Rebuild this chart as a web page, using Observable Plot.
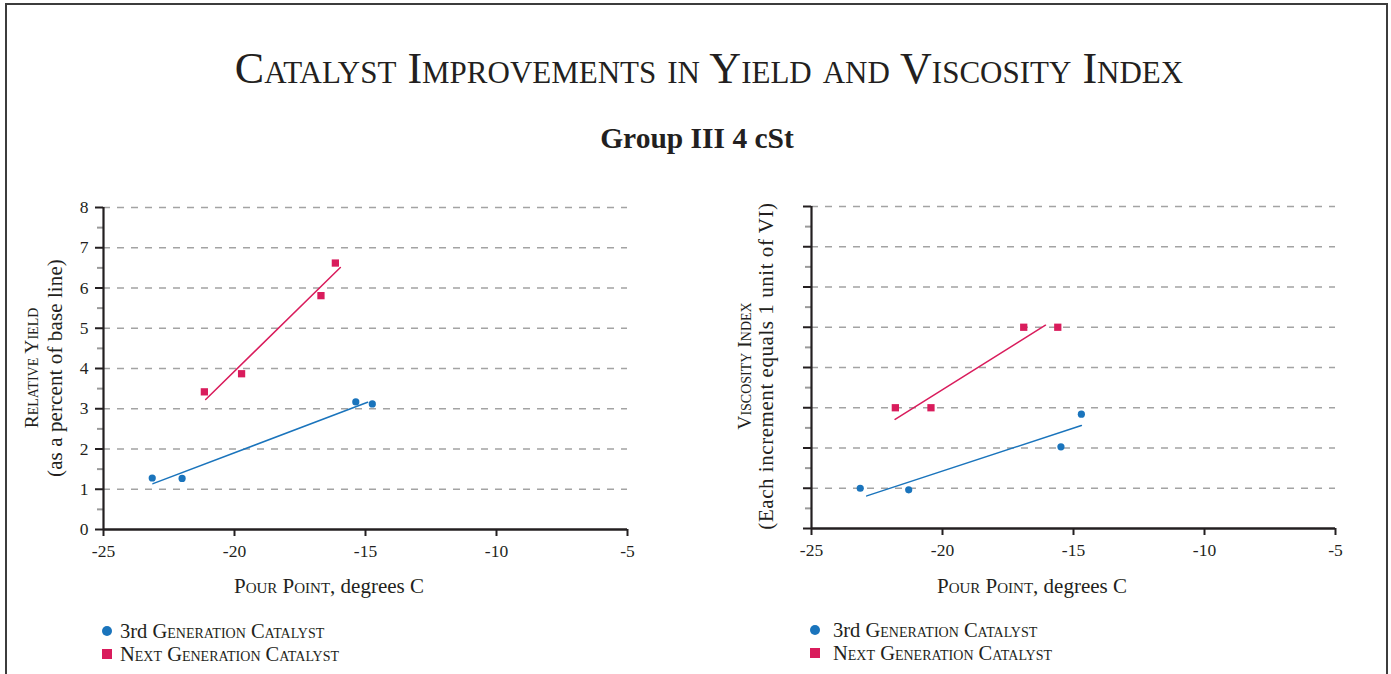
<!DOCTYPE html>
<html>
<head>
<meta charset="utf-8">
<script src="https://cdn.jsdelivr.net/npm/d3@7"></script>
<script src="https://cdn.jsdelivr.net/npm/@observablehq/plot@0.6"></script>
<style>
html, body { margin: 0; padding: 0; background: #fff; }
#page { position: relative; width: 1391px; height: 674px; overflow: hidden; font-family: "Liberation Serif", "DejaVu Serif", serif; color: #231f20; background: #fff; }
#frame { position: absolute; left: 5px; top: 3px; width: 1383px; height: 720px; border: 2px solid #3c3c3c; box-sizing: border-box; }
.abs { position: absolute; white-space: nowrap; line-height: 1; }
.c { transform: translate(-50%, -50%); }
.rot { transform: translate(-50%, -50%) rotate(-90deg); }
.sc { font-variant: small-caps; }
.nv { font-variant: normal; }
.chart { position: absolute; }
.leg { position: absolute; white-space: nowrap; line-height: 1; font-variant: small-caps; transform: translateY(-50%); }
.mk { position: absolute; transform: translate(-50%, -50%); }
</style>
</head>
<body>
<div id="page">
  <div id="frame"></div>
  <div id="title" class="abs c sc" style="left:709px; top:69px; font-size:44px;"></div>
  <div id="subtitle" class="abs c" style="left:697px; top:139px; font-size:29.5px; font-weight:bold;"></div>
</div>
<script>
// ---------- text ----------
const titleText = "Catalyst Improvements in Yield and Viscosity Index";
const subtitleText = "Group III 4 cSt";
const xTitleSC = "Pour Point";
const xTitleRest = ", degrees C";
const leftYTitle = "Relative Yield";
const leftYSub = "(as a percent of base line)";
const rightYTitle = "Viscosity Index";
const rightYSub = "(Each increment equals 1 unit of VI)";
const seriesPrefix = ["3rd ", ""];
const seriesNames = ["Generation Catalyst", "Next Generation Catalyst"];
const seriesColors = ["#1a74bc", "#d91c5c"];

// ---------- ticks ----------
const xTicks = [-25, -20, -15, -10, -5];
const yTicks = [0, 1, 2, 3, 4, 5, 6, 7, 8];
const yMinorTicks = [0.5, 1.5, 2.5, 3.5, 4.5, 5.5, 6.5, 7.5];
const yGrid = [1, 2, 3, 4, 5, 6, 7, 8];

// ---------- left chart: relative yield ----------
const yield3rdX = [-23.14, -22.0, -15.37, -14.74];
const yield3rdY = [1.28, 1.27, 3.17, 3.12];
const yieldNextX = [-21.15, -19.73, -16.70, -16.15];
const yieldNextY = [3.42, 3.87, 5.81, 6.62];
const yield3rdTrendX = [-23.11, -14.92];
const yield3rdTrendY = [1.14, 3.16];
const yieldNextTrendX = [-21.10, -15.96];
const yieldNextTrendY = [3.23, 6.51];

// ---------- right chart: viscosity index ----------
const vi3rdX = [-23.14, -21.29, -15.48, -14.70];
const vi3rdY = [1.00, 0.96, 2.03, 2.84];
const viNextX = [-21.80, -20.44, -16.90, -15.60];
const viNextY = [3.0, 3.0, 5.0, 5.0];
const vi3rdTrendX = [-22.89, -14.70];
const vi3rdTrendY = [0.81, 2.56];
const viNextTrendX = [-21.81, -16.07];
const viNextTrendY = [2.71, 5.05];

const zip = (xs, ys) => xs.map((x, i) => ({x, y: ys[i]}));
const INK = "#231f20";

function chart(o) {
  return Plot.plot({
    width: o.width, height: o.height,
    marginLeft: o.ml, marginRight: o.mr, marginTop: o.mt, marginBottom: o.mb,
    x: {domain: [-25, -5]},
    y: {domain: [0, 8]},
    style: {fontFamily: "Liberation Serif, serif", fontSize: "17px", color: INK, background: "transparent"},
    marks: [
      Plot.gridY(yGrid, {stroke: "#a3a3a3", strokeOpacity: 1, strokeWidth: 1.5, strokeDasharray: "7,7"}),
      Plot.axisY(yMinorTicks, {tickSize: 6, stroke: "#9a9a9a", strokeWidth: 2, fill: "none", label: null}),
      Plot.axisY(yTicks, {tickSize: 8, tickPadding: 7, stroke: INK, strokeWidth: 2, fill: o.yLabels ? INK : "none", label: null, fontSize: 17.5, tickFormat: d => String(d)}),
      Plot.axisX(xTicks, {tickSize: 7, tickPadding: 8, stroke: INK, strokeWidth: 2, fill: INK, label: null, fontSize: 17.5, tickFormat: d => String(d)}),
      Plot.ruleX([-25], {stroke: INK, strokeWidth: 2.2}),
      Plot.ruleY([0], {stroke: INK, strokeWidth: 2.5}),
      Plot.line(zip(o.t3x, o.t3y), {x: "x", y: "y", stroke: seriesColors[0], strokeWidth: 1.5}),
      Plot.line(zip(o.tNx, o.tNy), {x: "x", y: "y", stroke: seriesColors[1], strokeWidth: 1.5}),
      Plot.dot(zip(o.x3, o.y3), {x: "x", y: "y", r: 3.6, fill: seriesColors[0], symbol: "circle"}),
      Plot.dot(zip(o.xN, o.yN), {x: "x", y: "y", r: 4.1, fill: seriesColors[1], symbol: "square"})
    ]
  });
}

const page = document.getElementById("page");
document.getElementById("title").textContent = titleText;
document.getElementById("subtitle").textContent = subtitleText;

function place(el, left, top) {
  el.classList.add("chart");
  el.style.left = left + "px";
  el.style.top = top + "px";
  page.appendChild(el);
}

const leftChart = chart({
  width: 690, height: 400, ml: 103, mr: 63, mt: 27, mb: 51, yLabels: true,
  x3: yield3rdX, y3: yield3rdY, xN: yieldNextX, yN: yieldNextY,
  t3x: yield3rdTrendX, t3y: yield3rdTrendY, tNx: yieldNextTrendX, tNy: yieldNextTrendY
});
place(leftChart, 0, 180);

const rightChart = chart({
  width: 690, height: 400, ml: 111, mr: 55, mt: 26, mb: 52, yLabels: false,
  x3: vi3rdX, y3: vi3rdY, xN: viNextX, yN: viNextY,
  t3x: vi3rdTrendX, t3y: vi3rdTrendY, tNx: viNextTrendX, tNy: viNextTrendY
});
place(rightChart, 700, 180);

function addText(parts, cls, left, top, size, spacing) {
  const d = document.createElement("div");
  d.className = "abs " + cls;
  d.style.left = left + "px";
  d.style.top = top + "px";
  d.style.fontSize = size + "px";
  if (spacing) d.style.letterSpacing = spacing + "px";
  parts.forEach(([text, c]) => {
    const s = document.createElement("span");
    if (c) s.className = c;
    s.textContent = text;
    d.appendChild(s);
  });
  page.appendChild(d);
  return d;
}

// axis titles
addText([[xTitleSC, "sc"], [xTitleRest, "nv"]], "c", 329, 586, 21);
addText([[xTitleSC, "sc"], [xTitleRest, "nv"]], "c", 1032, 586, 21);
addText([[leftYTitle, "sc"]], "rot", 32, 368, 19.5);
addText([[leftYSub, ""]], "rot", 55, 368, 21, 0.1);
addText([[rightYTitle, "sc"]], "rot", 745, 366, 19.5);
addText([[rightYSub, ""]], "rot", 766, 366, 21, 0.55);

// legends
function legend(mx, tx, y1, y2) {
  const rows = [[y1, "circle"], [y2, "square"]];
  rows.forEach(([y, shape], i) => {
    const svg = document.createElementNS("http://www.w3.org/2000/svg", "svg");
    svg.setAttribute("width", 12); svg.setAttribute("height", 12);
    svg.setAttribute("class", "mk");
    svg.style.left = mx + "px"; svg.style.top = y + "px";
    if (shape === "circle") {
      const c = document.createElementNS("http://www.w3.org/2000/svg", "circle");
      c.setAttribute("cx", 6); c.setAttribute("cy", 6); c.setAttribute("r", 5);
      c.setAttribute("fill", seriesColors[i]);
      svg.appendChild(c);
    } else {
      const r = document.createElementNS("http://www.w3.org/2000/svg", "rect");
      r.setAttribute("x", 1); r.setAttribute("y", 1); r.setAttribute("width", 10); r.setAttribute("height", 10);
      r.setAttribute("fill", seriesColors[i]);
      svg.appendChild(r);
    }
    page.appendChild(svg);
    const t = document.createElement("div");
    t.className = "leg";
    t.style.left = tx + "px"; t.style.top = y + "px";
    t.style.fontSize = "20.5px";
    if (seriesPrefix[i]) {
      const p = document.createElement("span");
      p.className = "nv";
      p.textContent = seriesPrefix[i];
      t.appendChild(p);
    }
    const n = document.createElement("span");
    n.textContent = seriesNames[i];
    t.appendChild(n);
    page.appendChild(t);
  });
}
legend(107, 120, 631, 654);
legend(815, 833, 630, 653);
</script>
</body>
</html>
